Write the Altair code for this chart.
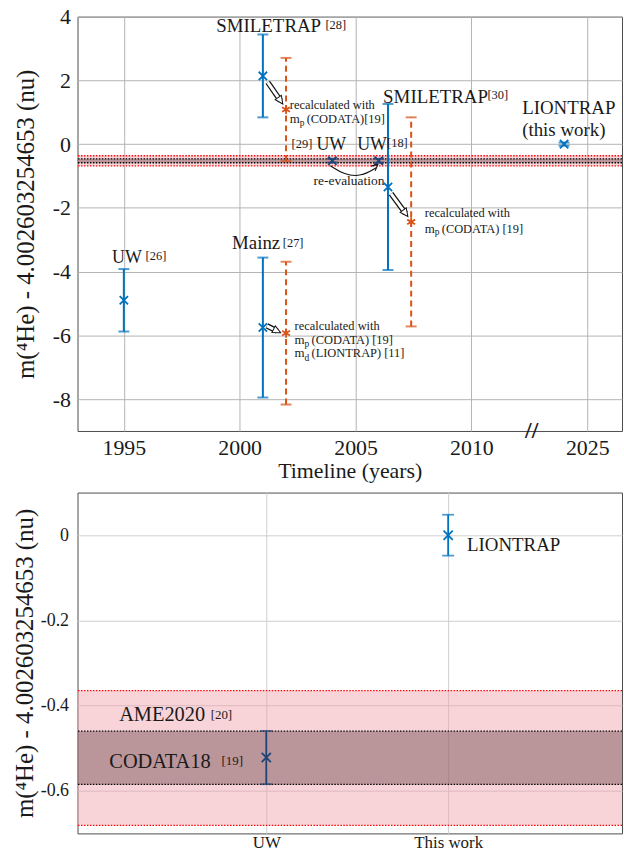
import math
import altair as alt
import pandas as pd

FONT = "Liberation Serif"
BLUE = "#0072BD"
ORANGE = "#D95319"
NAVY = "#1f4477"
INK = "#1a1a1a"
YTITLE = "m(⁴He) - 4.002603254653 (nu)"

# ---------------- data: top panel (timeline) ----------------
labels = ["UW [26]", "SMILETRAP [28]", "SMILETRAP [28] recalc.", "Mainz [27]",
          "Mainz [27] recalc.", "UW [29]", "UW [18]", "SMILETRAP [30]",
          "SMILETRAP [30] recalc.", "LIONTRAP"]
years = [1995.0, 2001.0, 2002.0, 2001.0, 2002.0, 2004.0, 2006.0, 2006.4, 2007.4, 2024.0]
values = [-4.90, 2.14, 1.085, -5.755, -5.93, -0.52, -0.52, -1.345, -2.44, 0.0]
errors = [0.98, 1.30, 1.62, 2.195, 2.24, 0.06, 0.06, 2.605, 3.28, 0.05]
kinds = ["measured", "measured", "recalculated", "measured", "recalculated",
         "uw", "uw", "measured", "recalculated", "measured"]

# reference bands (nu)
band_names = ["AME2020", "CODATA18"]
band_lo = [-0.681, -0.585]
band_hi = [-0.365, -0.460]

# ---------------- data: bottom panel ----------------
cats_bottom = ["UW", "This work"]
pos_bottom = [1, 2]
values_bottom = [-0.522, 0.0]
errors_bottom = [0.0625, 0.048]
colors_bottom = [NAVY, BLUE]

BREAK_SHIFT = 10  # axis break: 2015 position is labelled 2025


def disp_year(y):
    return y - BREAK_SHIFT if y > 2012 else y


# ---------------- geometry ----------------
W = 548
H_TOP = 417
H_BOT = 343
X0, X1 = 1993.0, 2016.5
Y0, Y1 = -9.0, 4.0
BX0, BX1 = -0.038, 2.956
BY0, BY1 = -0.7, 0.1

xs_top = alt.Scale(domain=[X0, X1], nice=False, zero=False)
ys_top = alt.Scale(domain=[Y0, Y1], nice=False, zero=False)
xs_bot = alt.Scale(domain=[BX0, BX1], nice=False, zero=False)
ys_bot = alt.Scale(domain=[BY0, BY1], nice=False, zero=False)

common_axis = dict(ticks=False, domain=False, labelFont=FONT, titleFont=FONT,
                   labelColor=INK, titleColor=INK, titleFontWeight="normal",
                   labelOverlap=False)

ax_top_x = alt.Axis(values=[1995, 2000, 2005, 2010, 2015],
                    labelExpr="datum.value == 2015 ? '2025' : format(datum.value, 'd')",
                    grid=True, gridColor="#b3b3b3", labelFontSize=22, labelPadding=7,
                    titleFontSize=22, titlePadding=2, **common_axis)
ax_top_y = alt.Axis(values=[-8, -6, -4, -2, 0, 2, 4],
                    labelExpr="datum.value < 0 ? '-' + format(abs(datum.value), 'd') : format(datum.value, 'd')",
                    grid=True, gridColor="#b3b3b3", labelFontSize=22, labelPadding=7,
                    titleFontSize=25, titlePadding=14, **common_axis)
ax_bot_x = alt.Axis(values=[1, 2],
                    labelExpr="datum.value == 1 ? '" + cats_bottom[0] + "' : '" + cats_bottom[1] + "'",
                    grid=True, gridColor="#cfcfcf", labelFontSize=17, labelPadding=1,
                    **common_axis)
ax_bot_y = alt.Axis(values=[0, -0.2, -0.4, -0.6],
                    labelExpr="datum.value == 0 ? '0' : '-' + format(abs(datum.value), '.1f')",
                    grid=True, gridColor="#cfcfcf", labelFontSize=18, labelPadding=9,
                    titleFontSize=25, titlePadding=3, **common_axis)


def TX(f):
    return alt.X(f"{f}:Q", scale=xs_top, axis=ax_top_x, title="Timeline (years)")


def TY(f):
    return alt.Y(f"{f}:Q", scale=ys_top, axis=ax_top_y, title=YTITLE)


def BXe(f):
    return alt.X(f"{f}:Q", scale=xs_bot, axis=ax_bot_x, title=None)


def BYe(f):
    return alt.Y(f"{f}:Q", scale=ys_bot, axis=ax_bot_y, title=YTITLE)


XPATH = "M-1,-1L1,1M-1,1L1,-1"
ASTPATH = "M0,-1.1L0,1.1M-0.95,-0.55L0.95,0.55M-0.95,0.55L0.95,-0.55"

# ---------------- top panel ----------------
top_df = pd.DataFrame({"label": labels, "year": [disp_year(y) for y in years],
                       "value": values, "err": errors, "kind": kinds})
top_df["lo"] = top_df["value"] - top_df["err"]
top_df["hi"] = top_df["value"] + top_df["err"]

band_df = pd.DataFrame({"name": band_names, "lo": band_lo, "hi": band_hi})

kind_dom = ["measured", "recalculated", "uw"]
col_enc = alt.Color("kind:N", scale=alt.Scale(domain=kind_dom, range=[BLUE, ORANGE, NAVY]), legend=None)
dash_enc = alt.StrokeDash("kind:N", scale=alt.Scale(domain=kind_dom, range=[[1, 0], [6, 4], [1, 0]]), legend=None)
shape_enc = alt.Shape("kind:N", scale=alt.Scale(domain=kind_dom, range=[XPATH, ASTPATH, XPATH]), legend=None)


def band_layers(df, Yf, width):
    ame = df[df["name"] == "AME2020"]
    cod = df[df["name"] == "CODATA18"]
    l1 = alt.Chart(ame).mark_rect(color="#f0a0a8", opacity=0.45).encode(
        x=alt.value(0), x2=alt.value(width), y=Yf("lo"), y2="hi")
    l2 = alt.Chart(cod).mark_rect(color="#6e4a4d", opacity=0.45).encode(
        x=alt.value(0), x2=alt.value(width), y=Yf("lo"), y2="hi")
    lines_ame = pd.DataFrame({"v": [ame["lo"].iloc[0], ame["hi"].iloc[0]]})
    lines_cod = pd.DataFrame({"v": [cod["lo"].iloc[0], cod["hi"].iloc[0]]})
    l3 = alt.Chart(lines_ame).mark_rule(color="#ff0000", strokeDash=[1.5, 1.5], strokeWidth=1.3).encode(y=Yf("v"))
    l4 = alt.Chart(lines_cod).mark_rule(color="#000000", strokeDash=[1.5, 1.5], strokeWidth=1.3).encode(y=Yf("v"))
    return [l1, l2, l3, l4]


top_base = alt.Chart(top_df)
err_rules = top_base.mark_rule(strokeWidth=2).encode(
    x=TX("year"), y=TY("lo"), y2="hi", color=col_enc, strokeDash=dash_enc)
caps_lo = top_base.mark_tick(orient="horizontal", size=11, thickness=2).encode(
    x=TX("year"), y=TY("lo"), color=col_enc)
caps_hi = top_base.mark_tick(orient="horizontal", size=11, thickness=2).encode(
    x=TX("year"), y=TY("hi"), color=col_enc)
markers = top_base.mark_point(filled=False, size=70, strokeWidth=1.8, opacity=1).encode(
    x=TX("year"), y=TY("value"), color=col_enc, shape=shape_enc)

# annotations (x in displayed years, y in nu)
top_notes = [
    ("SMILETRAP", 1998.99, 3.69, 19), ("[28]", 2003.70, 3.75, 12.5),
    ("recalculated with", 2002.16, 1.23, 12.5), ("m", 2002.16, 0.79, 13),
    ("p", 2002.59, 0.665, 9.5), ("(CODATA)[19]", 2002.89, 0.79, 12.5),
    ("[29]", 2002.24, 0.01, 12.5), ("UW", 2003.31, -0.02, 18),
    ("UW", 2005.07, -0.02, 18), ("[18]", 2006.36, 0.04, 12.5),
    ("re-evaluation", 2003.19, -1.15, 13.5),
    ("SMILETRAP", 2006.19, 1.47, 19), ("[30]", 2010.69, 1.54, 12.5),
    ("LIONTRAP", 2012.19, 1.13, 19), ("(this work)", 2012.19, 0.45, 19),
    ("recalculated with", 2007.99, -2.15, 12.5), ("m", 2007.99, -2.65, 13),
    ("p", 2008.42, -2.77, 9.5), ("(CODATA) [19]", 2008.72, -2.65, 12.5),
    ("UW", 1994.49, -3.58, 18), ("[26]", 1995.94, -3.52, 12.5),
    ("Mainz", 1999.67, -3.11, 19), ("[27]", 2001.86, -3.11, 12.5),
    ("recalculated with", 2002.37, -5.70, 12.5), ("m", 2002.37, -6.14, 13),
    ("p", 2002.80, -6.26, 9.5), ("(CODATA) [19]", 2003.10, -6.14, 12.5),
    ("m", 2002.37, -6.57, 13), ("d", 2002.80, -6.70, 9.5),
    ("(LIONTRAP) [11]", 2003.10, -6.57, 12.5),
]
notes_df = pd.DataFrame(top_notes, columns=["text", "x", "y", "size"])
notes = alt.Chart(notes_df).mark_text(align="left", baseline="middle", font=FONT, color=INK).encode(
    x=TX("x"), y=TY("y"), text="text:N", size=alt.Size("size:Q", scale=None))

brk_df = pd.DataFrame({"text": ["//"], "x": [2012.6], "y": [-9.0]})
brk = alt.Chart(brk_df).mark_text(align="center", baseline="middle", font=FONT, fontSize=24,
                                  fontWeight="bold", color=INK).encode(
    x=TX("x"), y=TY("y"), text="text:N")

# arrows (start -> tip, in displayed years / nu)
arrows = [
    (2001.21, 1.94, 2001.86, 1.26),
    (2001.17, -5.70, 2001.77, -5.92),
    (2006.53, -1.55, 2007.26, -2.27),
]
PXX = W / (X1 - X0)
PXY = H_TOP / (Y1 - Y0)
HEAD = 8.0
shaft_rows, head_rows = [], []
for (xa, ya, xb, yb) in arrows:
    dxp = (xb - xa) * PXX
    dyp = -(yb - ya) * PXY
    L = math.hypot(dxp, dyp)
    ux, uy = dxp / L, dyp / L
    hx = xb - ux * (HEAD / 2) / PXX
    hy = yb + uy * (HEAD / 2) / PXY
    ang = math.degrees(math.atan2(ux, -uy)) % 360
    shaft_rows.append({"x": xa, "y": ya, "x2": hx, "y2": hy})
    head_rows.append({"x": hx, "y": hy, "angle": ang})
shaft_df = pd.DataFrame(shaft_rows)
head_df = pd.DataFrame(head_rows)
shaft_b = alt.Chart(shaft_df).mark_rule(color="#111111", strokeWidth=5.5, strokeCap="butt").encode(
    x=TX("x"), y=TY("y"), x2="x2", y2="y2")
shaft_w = alt.Chart(shaft_df).mark_rule(color="#ffffff", strokeWidth=3, strokeCap="butt").encode(
    x=TX("x"), y=TY("y"), x2="x2", y2="y2")
heads = alt.Chart(head_df).mark_point(shape="M0,-1L0.95,1L-0.95,1Z", filled=True, fill="#ffffff",
                                      stroke="#111111", strokeWidth=1, size=HEAD * HEAD, opacity=1).encode(
    x=TX("x"), y=TY("y"), angle=alt.Angle("angle:Q", scale=None))

# curved "re-evaluation" arrow
curve_df = pd.DataFrame({"x": [2003.91, 2004.51, 2005.24, 2005.89],
                         "y": [-0.68, -0.96, -1.02, -0.74], "o": [0, 1, 2, 3]})
curve = alt.Chart(curve_df).mark_line(color="#111111", strokeWidth=1.1, interpolate="basis").encode(
    x=TX("x"), y=TY("y"), order="o:Q")
c_dx = (2005.92 - 2005.60) * PXX
c_dy = -(-0.66 - -0.86) * PXY
c_ang = math.degrees(math.atan2(c_dx, -c_dy)) % 360
chead_df = pd.DataFrame({"x": [2005.86], "y": [-0.70], "angle": [c_ang]})
chead = alt.Chart(chead_df).mark_point(shape="M-1,1L0,-1L1,1", filled=False, stroke="#111111",
                                       strokeWidth=1.1, size=40, opacity=1).encode(
    x=TX("x"), y=TY("y"), angle=alt.Angle("angle:Q", scale=None))

top = alt.layer(
    *band_layers(band_df, TY, W),
    err_rules, caps_lo, caps_hi, markers, notes, brk,
    shaft_b, shaft_w, heads, curve, chead,
).properties(width=W, height=H_TOP)

# ---------------- bottom panel ----------------
bot_df = pd.DataFrame({"cat": cats_bottom, "pos": pos_bottom, "value": values_bottom,
                       "err": errors_bottom, "color": colors_bottom})
bot_df["lo"] = bot_df["value"] - bot_df["err"]
bot_df["hi"] = bot_df["value"] + bot_df["err"]
bb = alt.Chart(bot_df)
b_rules = bb.mark_rule(strokeWidth=1.8).encode(
    x=BXe("pos"), y=BYe("lo"), y2="hi", color=alt.Color("color:N", scale=None))
b_lo = bb.mark_tick(orient="horizontal", size=12, thickness=1.8).encode(
    x=BXe("pos"), y=BYe("lo"), color=alt.Color("color:N", scale=None))
b_hi = bb.mark_tick(orient="horizontal", size=12, thickness=1.8).encode(
    x=BXe("pos"), y=BYe("hi"), color=alt.Color("color:N", scale=None))
b_mk = bb.mark_point(shape=XPATH, filled=False, size=85, strokeWidth=1.8, opacity=1).encode(
    x=BXe("pos"), y=BYe("value"), color=alt.Color("color:N", scale=None))

bot_notes = [
    ("LIONTRAP", 2.104, -0.024, 19),
    ("AME2020", 0.191, -0.423, 20.5), ("[20]", 0.694, -0.421, 13),
    ("CODATA18", 0.137, -0.5325, 20.5), ("[19]", 0.754, -0.530, 13),
]
bn_df = pd.DataFrame(bot_notes, columns=["text", "x", "y", "size"])
b_notes = alt.Chart(bn_df).mark_text(align="left", baseline="middle", font=FONT, color=INK).encode(
    x=BXe("x"), y=BYe("y"), text="text:N", size=alt.Size("size:Q", scale=None))

bottom = alt.layer(
    *band_layers(band_df, BYe, W),
    b_rules, b_lo, b_hi, b_mk, b_notes,
).properties(width=W, height=H_BOT)

chart = alt.vconcat(top, bottom, spacing=9).properties(
    padding={"left": 12, "top": 2, "right": 0, "bottom": 0},
    background="#ffffff",
).configure_view(stroke="#4d4d4d", strokeWidth=1).configure_axis(
    labelFont=FONT, titleFont=FONT
)

chart.save("out.html", embed_options={"renderer": "svg", "actions": False})
